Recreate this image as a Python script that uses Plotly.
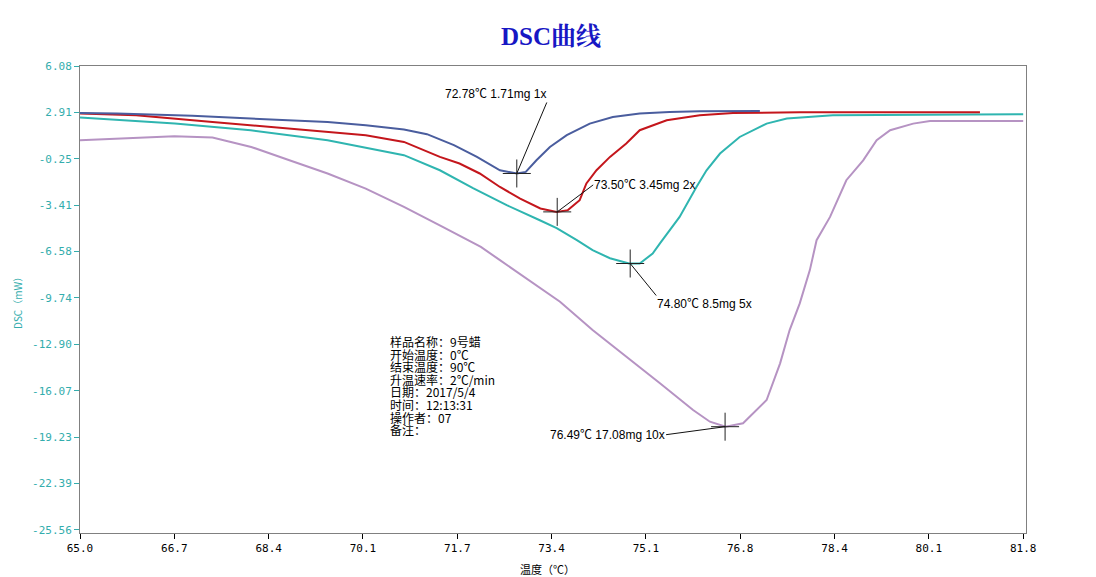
import plotly.graph_objects as go

# ---------------- data ----------------
x_tick_labels = ["65.0", "66.7", "68.4", "70.1", "71.7", "73.4", "75.1", "76.8", "78.4", "80.1", "81.8"]
y_tick_labels = ["6.08", "2.91", "-0.25", "-3.41", "-6.58", "-9.74", "-12.90", "-16.07", "-19.23", "-22.39", "-25.56"]

blue_x = [65.0, 65.66, 67.0, 68.05, 69.41, 70.09, 70.77, 71.18, 71.66, 72.07, 72.48, 72.78, 72.94,
          73.13, 73.37, 73.67, 74.08, 74.49, 74.97, 75.5, 76.04, 77.11]
blue_y = [2.88, 2.84, 2.68, 2.50, 2.26, 2.04, 1.75, 1.43, 0.68, -0.12, -1.03, -1.25, -1.14,
          -0.35, 0.56, 1.36, 2.15, 2.60, 2.84, 2.95, 2.99, 3.01]

red_x = [65.0, 66.00, 67.36, 68.73, 70.09, 70.77, 71.41, 71.76, 72.12, 72.48, 72.84, 73.20, 73.49,
         73.69, 73.90, 74.02, 74.20, 74.44, 74.73, 74.97, 75.45, 76.04, 76.63, 77.82, 81.03]
red_y = [2.84, 2.72, 2.26, 1.81, 1.36, 0.90, -0.12, -0.57, -1.25, -2.17, -2.96, -3.64, -3.87,
         -3.75, -3.07, -1.93, -1.03, -0.12, 0.79, 1.70, 2.38, 2.72, 2.88, 2.92, 2.92]

teal_x = [65.0, 66.69, 68.04, 69.41, 70.77, 71.41, 72.00, 72.60, 73.19, 73.49, 73.85, 74.13, 74.44,
          74.78, 74.97, 75.20, 75.33, 75.68, 75.98, 76.16, 76.40, 76.75, 77.23, 77.59, 78.41, 81.80]
teal_y = [2.56, 2.15, 1.70, 1.02, 0.00, -1.03, -2.25, -3.41, -4.44, -4.98, -5.80, -6.48, -7.03,
          -7.39, -7.39, -6.71, -6.02, -4.21, -2.17, -1.03, 0.11, 1.24, 2.15, 2.50, 2.72, 2.79]

purple_x = [65.0, 66.68, 67.36, 68.05, 68.73, 69.41, 70.09, 70.77, 71.46, 72.14, 72.48, 73.01, 73.55,
            74.13, 74.74, 75.33, 75.92, 76.22, 76.50, 76.81, 77.23, 77.47, 77.64, 77.82, 78.00, 78.12,
            78.36, 78.65, 78.95, 79.19, 79.43, 79.84, 80.14, 81.80]
purple_y = [1.02, 1.29, 1.20, 0.56, -0.35, -1.25, -2.28, -3.53, -4.89, -6.26, -7.16, -8.59, -10.00,
            -11.93, -13.75, -15.56, -17.38, -18.18, -18.52, -18.29, -16.70, -14.20, -11.93, -10.11, -7.84, -5.80,
            -4.21, -1.71, -0.35, 1.02, 1.70, 2.15, 2.33, 2.33]

peak_temp = [72.78, 73.50, 74.80, 76.49]
peak_dsc = [-1.25, -3.87, -7.39, -18.52]
peak_mass = ["1.71mg", "3.45mg", "8.5mg", "17.08mg"]
peak_factor = ["1x", "2x", "5x", "10x"]

info_lines = ["样品名称：9号蜡", "开始温度：0℃", "结束温度：90℃", "升温速率：2℃/min",
              "日期：2017/5/4", "时间：12:13:31", "操作者：07", "备注："]

# ---------------- styling / layout ----------------
colors = ["#4a5d9e", "#c4161c", "#2fb5b0", "#b693c3"]
teal_txt = "#33adad"
OFF = 8                     # page body margin of the html page
W, H = 1096 - OFF, 577 - OFF
ml, mt = 80 - OFF, 66 - OFF
mr = W - (1026 - OFF)
mb = H - (533 - OFF)
pw, ph = W - ml - mr, H - mt - mb


def px_x(px):   # page pixel -> paper x
    return (px - OFF - ml) / pw


def px_y(py):   # page pixel -> paper y
    return (533 - py) / ph


fig = go.Figure()
for xs, ys, c in [(purple_x, purple_y, colors[3]), (teal_x, teal_y, colors[2]),
                  (red_x, red_y, colors[1]), (blue_x, blue_y, colors[0])]:
    fig.add_trace(go.Scatter(x=xs, y=ys, mode="lines", line=dict(color=c, width=2),
                             showlegend=False, hoverinfo="skip"))

fig.add_trace(go.Scatter(x=peak_temp, y=peak_dsc, mode="markers",
                         marker=dict(symbol="cross-thin", size=20,
                                     line=dict(color="#222222", width=1)),
                         showlegend=False, hoverinfo="skip"))

# peak annotations: (ax, ay, xanchor, yanchor)
ann_pos = [(30, -71, "right", "bottom"), (36, -27, "left", "middle"),
           (26, 32, "left", "top"), (-59, 8, "right", "middle")]
annotations = []
for t, d, m, f, (ax, ay, xa, ya) in zip(peak_temp, peak_dsc, peak_mass, peak_factor, ann_pos):
    annotations.append(dict(x=t, y=d, xref="x", yref="y", text=f"{t:.2f}℃ {m} {f}",
                            showarrow=True, arrowhead=0, arrowwidth=1, arrowcolor="#111111",
                            ax=ax, ay=ay, xanchor=xa, yanchor=ya, borderpad=0,
                            font=dict(family="Liberation Sans, Noto Sans CJK SC", size=12, color="#000000")))

# info block: tight line spacing (base size sets spacing, span sets glyph size)
info_text = "<br>".join(f'<span style="font-size:12px">{s}</span>' for s in info_lines)
annotations.append(dict(x=px_x(388), y=px_y(331), xref="paper", yref="paper",
                        text=info_text, showarrow=False, xanchor="left", yanchor="top", align="left",
                        font=dict(family="Noto Sans CJK SC", size=9.7, color="#000000")))

# axis titles
annotations.append(dict(x=px_x(17), y=px_y(300), xref="paper", yref="paper",
                        text="DSC（mW）", textangle=-90, showarrow=False,
                        xanchor="center", yanchor="middle",
                        font=dict(family="Noto Sans CJK SC", size=10, color=teal_txt)))
annotations.append(dict(x=px_x(547), y=px_y(569), xref="paper", yref="paper",
                        text="温度（℃）", showarrow=False, xanchor="center", yanchor="middle",
                        font=dict(family="Noto Sans CJK SC", size=11, color="#000000")))

x_tickvals = [65 + i * 1.68 for i in range(len(x_tick_labels))]
y_tickvals = [6.08 - i * 3.164 for i in range(len(y_tick_labels))]

fig.update_layout(
    width=W, height=H,
    margin=dict(l=ml, r=mr, t=mt, b=mb),
    paper_bgcolor="white", plot_bgcolor="white",
    title=dict(text="<b>DSC曲线</b>", x=(551 - OFF) / W, xanchor="center", y=1 - (36 - OFF) / H,
               yanchor="middle",
               font=dict(family="Liberation Serif, Noto Serif CJK SC, Noto Sans CJK SC", size=25,
                         color="#1717c4")),
    annotations=annotations,
    xaxis=dict(range=[65, 81.85], tickvals=x_tickvals, ticktext=x_tick_labels,
               showgrid=False, zeroline=False, showline=True, linecolor="#808080", linewidth=1,
               mirror=True, ticks="outside", ticklen=5, tickcolor="#000000",
               tickfont=dict(family="DejaVu Sans Mono", size=11, color="#000000")),
    yaxis=dict(range=[-25.77, 6.08], tickvals=y_tickvals, ticktext=y_tick_labels,
               showgrid=False, zeroline=False, showline=True, linecolor="#808080", linewidth=1,
               mirror=True, ticks="outside", ticklen=5, tickcolor=teal_txt,
               tickfont=dict(family="DejaVu Sans Mono", size=11, color=teal_txt)),
)

fig.write_html("out.html")
